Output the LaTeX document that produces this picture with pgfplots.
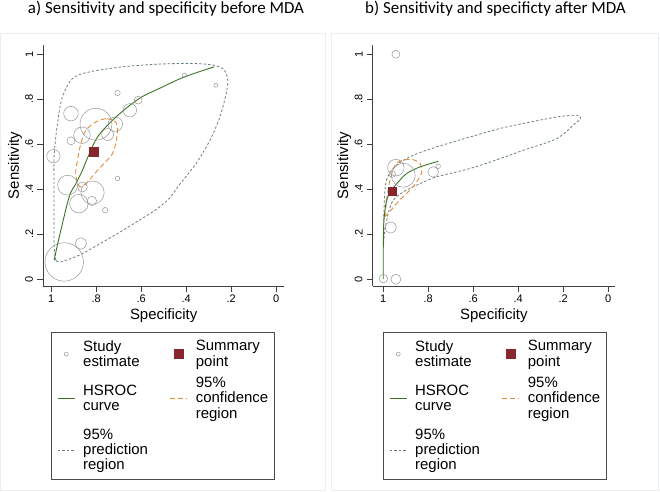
\documentclass[border=0pt]{standalone}
\usepackage{fontspec}
\setmainfont{Liberation Sans}
\newfontfamily\titlefont{Carlito}
\usepackage{pgfplots}
\pgfplotsset{compat=1.18}
\definecolor{bub}{RGB}{150,150,150}
\definecolor{summ}{RGB}{135,38,45}
\definecolor{hsroc}{RGB}{60,115,35}
\definecolor{conf}{RGB}{230,138,50}
\definecolor{pred}{RGB}{105,125,135}
\definecolor{framec}{RGB}{232,238,242}

\pgfplotsset{
 myaxis/.style={
   scale only axis, height=241bp,
   x dir=reverse, axis x line*=bottom, axis y line*=left,
   axis line style={black!75, line width=0.6pt},
   xtick={0,0.2,0.4,0.6,0.8,1}, xticklabels={0,.2,.4,.6,.8,1},
   ytick={0,0.2,0.4,0.6,0.8,1}, yticklabels={0,.2,.4,.6,.8,1},
   tick align=outside, major tick length=6bp,
   tick style={black!75, line width=0.6pt},
   ticklabel style={font=\fontsize{11}{11}\selectfont},
   yticklabel style={rotate=90, anchor=south, inner sep=4bp},
   xticklabel style={anchor=north, inner sep=3bp},
   ymin=-0.030, ymax=1.041,
   xlabel={Specificity}, ylabel={Sensitivity},
   label style={font=\fontsize{15}{15}\selectfont},
   xlabel style={at={(axis description cs:0.5,-0.1224)}, anchor=center},
   ylabel style={at={(axis description cs:-0.1176,0.5)}, anchor=center},
   clip=false,
   legend columns=2, legend cell align=left,
   legend style={anchor=north west, draw=black!70, line width=0.6pt,
     font=\fontsize{15}{15.2}\selectfont, inner xsep=6bp, inner ysep=8bp,
     row sep=9.5bp, nodes={inner sep=0pt, align=left},
     /tikz/every odd column/.append style={column sep=8bp},
     /tikz/every even column/.append style={column sep=22bp}},
 },
 bubbles/.style={scatter, only marks, mark=o, line width=0.5pt,
   scatter/use mapped color={draw=bub},
   visualization depends on={\thisrow{r} \as \perpointmarksize},
   scatter/@pre marker code/.append style={/tikz/mark size=\perpointmarksize}},
 summst/.style={only marks, mark=square*, mark size=4.4bp, color=summ},
 hsrocst/.style={hsroc, line width=0.9pt, smooth},
 confst/.style={conf, line width=0.9pt, dash pattern=on 5pt off 3pt, smooth},
 predst/.style={pred, line width=0.8pt, dash pattern=on 2.5pt off 2pt, smooth},
}

\begin{document}
\begin{tikzpicture}
\path[use as bounding box] (0,0) rectangle (660bp,492bp);
\draw[framec, line width=0.6pt] (0.5bp,2bp) rectangle (325bp,459bp);
\draw[framec, line width=0.6pt] (331bp,2bp) rectangle (658bp,459bp);
\node[font=\titlefont\fontsize{17}{17}\selectfont] at (166bp,483.5bp) {a) Sensitivity and specificity before MDA};
\node[font=\titlefont\fontsize{17}{17}\selectfont] at (495.5bp,483.5bp) {b) Sensitivity and specificty after MDA};

% ---------------- panel a
\begin{axis}[myaxis, at={(43.3bp,206bp)}, anchor=south west, width=240.7bp,
  xmin=-0.035, xmax=1.035,
  legend style={at={(axis description cs:0.032,-0.191)}}]
\addlegendimage{only marks, mark=o, mark size=2bp, draw=bub, line width=0.5pt}
\addlegendentry{Study\\estimate}
\addlegendimage{summst}
\addlegendentry{Summary\\point}
\addlegendimage{hsroc, line width=0.9pt}
\addlegendentry{HSROC\\curve}
\addlegendimage{conf, line width=0.9pt, dash pattern=on 5pt off 3pt}
\addlegendentry{95\%\\confidence\\region}
\addlegendimage{pred, line width=0.8pt, dash pattern=on 2.5pt off 2pt}
\addlegendentry{95\%\\prediction\\region}

\addplot[predst, forget plot] table {
x y
0.979 0.084
0.987 0.159
0.987 0.382
0.987 0.544
0.972 0.692
0.950 0.810
0.905 0.892
0.831 0.921
0.682 0.944
0.521 0.956
0.372 0.959
0.275 0.951
0.230 0.929
0.215 0.884
0.222 0.825
0.250 0.721
0.294 0.618
0.356 0.514
0.430 0.420
0.475 0.359
0.540 0.305
0.609 0.262
0.690 0.212
0.757 0.173
0.820 0.137
0.875 0.107
0.957 0.077
0.979 0.084
};
\addplot[confst, forget plot] table {
x y
0.757 0.714
0.800 0.700
0.846 0.662
0.868 0.603
0.883 0.529
0.891 0.470
0.879 0.418
0.866 0.410
0.850 0.420
0.831 0.440
0.794 0.484
0.760 0.520
0.727 0.559
0.710 0.618
0.705 0.677
0.720 0.705
0.757 0.714
};
\addplot[hsrocst, forget plot] table {
x y
0.987 0.084
0.964 0.188
0.920 0.366
0.890 0.425
0.861 0.484
0.846 0.521
0.794 0.632
0.712 0.721
0.609 0.803
0.519 0.848
0.408 0.899
0.275 0.944
};
\addplot[bubbles, forget plot] table {
x y r
0.990 0.547 6.7
0.912 0.736 7.3
0.912 0.615 4
0.863 0.640 8.3
0.801 0.689 16
0.749 0.643 6
0.715 0.689 7.3
0.650 0.751 6.7
0.613 0.796 4
0.705 0.828 2.7
0.408 0.907 2.3
0.268 0.862 2
0.927 0.418 10
0.861 0.410 5
0.816 0.385 11.7
0.877 0.336 9.3
0.819 0.348 4.7
0.760 0.307 2.7
0.705 0.448 2.3
0.868 0.159 5.7
0.942 0.077 19.3
};
\addplot[summst, forget plot] coordinates {(0.8125,0.567)};
\end{axis}

% ---------------- panel b
\begin{axis}[myaxis, at={(372.7bp,206bp)}, anchor=south west, width=242.3bp,
  xmin=-0.030, xmax=1.047,
  legend style={at={(axis description cs:0.0425,-0.191)}}]
\addlegendimage{only marks, mark=o, mark size=2bp, draw=bub, line width=0.5pt}
\addlegendentry{Study\\estimate}
\addlegendimage{summst}
\addlegendentry{Summary\\point}
\addlegendimage{hsroc, line width=0.9pt}
\addlegendentry{HSROC\\curve}
\addlegendimage{conf, line width=0.9pt, dash pattern=on 5pt off 3pt}
\addlegendentry{95\%\\confidence\\region}
\addlegendimage{pred, line width=0.8pt, dash pattern=on 2.5pt off 2pt}
\addlegendentry{95\%\\prediction\\region}

\addplot[predst, forget plot] table {
x y
0.999 0.140
0.997 0.300
0.990 0.420
0.970 0.475
0.933 0.514
0.867 0.551
0.763 0.588
0.615 0.632
0.481 0.670
0.378 0.692
0.229 0.721
0.140 0.729
0.123 0.714
0.148 0.692
0.229 0.625
0.378 0.573
0.481 0.536
0.615 0.492
0.763 0.455
0.837 0.425
0.911 0.388
0.956 0.351
0.978 0.292
0.995 0.200
0.999 0.140
};
\addplot[confst, forget plot] table {
x y
0.993 0.279
0.985 0.353
0.970 0.441
0.941 0.516
0.881 0.533
0.837 0.516
0.830 0.471
0.867 0.412
0.926 0.353
0.978 0.293
0.993 0.279
};
\addplot[hsrocst, forget plot] table {
x y
1.000 0.000
1.000 0.137
0.997 0.262
0.985 0.351
0.963 0.396
0.940 0.425
0.896 0.470
0.837 0.499
0.756 0.524
};
\addplot[bubbles, forget plot] table {
x y r
0.944 1.000 4
1.000 0.003 4.3
0.944 0.000 5
0.967 0.230 5.7
0.911 0.462 12
0.944 0.496 8.3
0.960 0.467 3.3
0.778 0.477 5.3
0.756 0.502 2.3
};
\addplot[summst, forget plot] coordinates {(0.96,0.391)};
\end{axis}
\end{tikzpicture}
\end{document}
